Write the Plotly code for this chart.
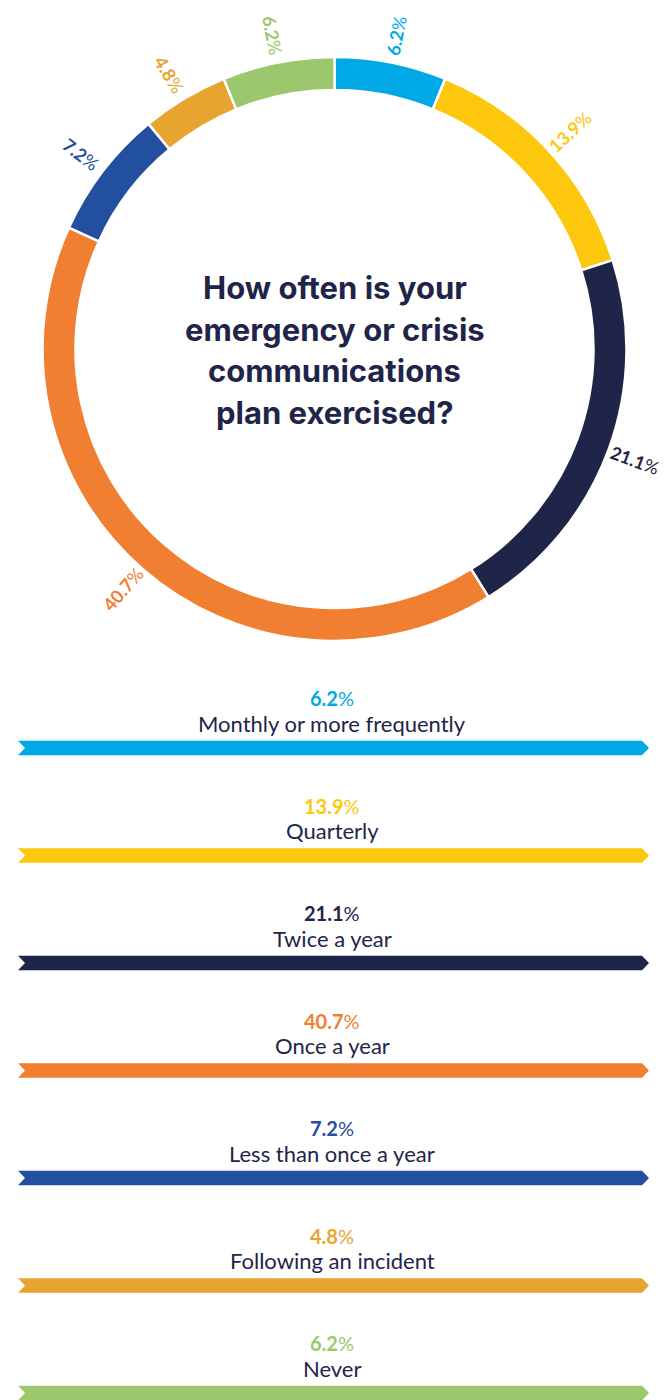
import math
import plotly.graph_objects as go

# Survey: How often is your emergency or crisis communications plan exercised?
categories = [
    "Monthly or more frequently",
    "Quarterly",
    "Twice a year",
    "Once a year",
    "Less than once a year",
    "Following an incident",
    "Never",
]
shares = [6.2, 13.9, 21.1, 40.7, 7.2, 4.8, 6.2]
colors = ["#00A9E6", "#FDC70D", "#1F2549", "#F07F32", "#224F9E", "#E7A42F", "#9DC76C"]
title_lines = ["How often is your", "emergency or crisis", "communications", "plan exercised?"]

NAVY = "#1F2549"
W, H = 664, 1400

# donut geometry (pixels)
CX, CY = 334.5, 349.0
R_OUT = 292.0
HOLE = 0.887
R_LABEL = 320.0

# legend rows (pixels)
ROW0 = 748.0
ROW_STEP = 107.5

fig = go.Figure()

fig.add_trace(go.Pie(
    values=shares,
    labels=categories,
    sort=False,
    direction="clockwise",
    rotation=0,
    hole=HOLE,
    textinfo="none",
    hoverinfo="label+percent",
    showlegend=False,
    marker=dict(colors=colors, line=dict(color="white", width=2.5)),
    domain=dict(
        x=[(CX - R_OUT) / W, (CX + R_OUT) / W],
        y=[1 - (CY + R_OUT) / H, 1 - (CY - R_OUT) / H],
    ),
))


def px_to_paper(x, y):
    return x / W, 1 - y / H


annotations = []

# radial percentage labels around the ring
total = sum(shares)
cum = 0.0
for v, c in zip(shares, colors):
    mid = (cum + v / 2) / total * 360.0
    cum += v
    th = math.radians(mid)
    x = CX + R_LABEL * math.sin(th)
    y = CY - R_LABEL * math.cos(th)
    ang = math.degrees(math.atan2(-math.cos(th), math.sin(th)))
    if ang > 90:
        ang -= 180
    elif ang < -90:
        ang += 180
    px, py = px_to_paper(x, y)
    annotations.append(dict(
        x=px, y=py, xref="paper", yref="paper", showarrow=False,
        text=f"<b>{v:.1f}</b>%", textangle=ang,
        font=dict(family="Lato", size=18, color=c),
        xanchor="center", yanchor="middle",
    ))

# centre title
LINE_GAP = 41.5
first = CY - 1.5 * LINE_GAP + 1
for i, line in enumerate(title_lines):
    px, py = px_to_paper(CX, first + i * LINE_GAP)
    annotations.append(dict(
        x=px, y=py, xref="paper", yref="paper", showarrow=False,
        text=f"<b>{line}</b>",
        font=dict(family="Inter", size=31, color=NAVY),
        xanchor="center", yanchor="middle",
    ))

# legend rows: chevron bars drawn on a cartesian axis, one row per category
BAR_L, BAR_R = 18 / W, 642 / W
TIP = 7 / W
HALF = 7.3 / ROW_STEP
for i, (cat, v, c) in enumerate(zip(categories, shares, colors)):
    yc = -i
    xs = [BAR_L, BAR_R, BAR_R + TIP, BAR_R, BAR_L, BAR_L + TIP, BAR_L]
    ys = [yc + HALF, yc + HALF, yc, yc - HALF, yc - HALF, yc, yc + HALF]
    fig.add_trace(go.Scatter(
        x=xs, y=ys, mode="lines", fill="toself", fillcolor=c,
        line=dict(width=0, color=c), hoverinfo="skip", showlegend=False,
    ))
    annotations.append(dict(
        x=0.5, y=yc + 50 / ROW_STEP, xref="x", yref="y", showarrow=False,
        text=f"<b>{v:.1f}</b>%",
        font=dict(family="Lato", size=20, color=c),
        xanchor="center", yanchor="middle",
    ))
    annotations.append(dict(
        x=0.5, y=yc + 25 / ROW_STEP, xref="x", yref="y", showarrow=False,
        text=cat,
        font=dict(family="Lato", size=22, color=NAVY),
        xanchor="center", yanchor="middle",
    ))

y_top = ROW0 / ROW_STEP
y_bot = y_top - H / ROW_STEP

fig.update_layout(
    width=W, height=H,
    margin=dict(l=0, r=0, t=0, b=0),
    paper_bgcolor="white", plot_bgcolor="rgba(0,0,0,0)",
    xaxis=dict(range=[0, 1], domain=[0, 1], visible=False, fixedrange=True),
    yaxis=dict(range=[y_bot, y_top], domain=[0, 1], visible=False, fixedrange=True),
    annotations=annotations,
    showlegend=False,
)

fig.write_html("out.html")
